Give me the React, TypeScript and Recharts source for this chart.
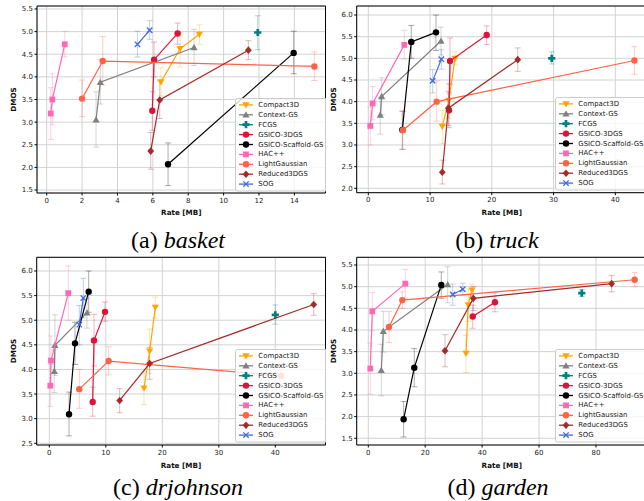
import React from 'react';
import { ScatterChart, Scatter, XAxis, YAxis, CartesianGrid, ErrorBar, ReferenceArea } from 'recharts';

type Pt = [number, number, number, number]; // rate [MB], DMOS, lower end, upper end

const METHODS = ['Compact3D', 'Context-GS', 'FCGS', 'GSICO-3DGS', 'GSICO-Scaffold-GS', 'HAC++', 'LightGaussian', 'Reduced3DGS', 'SOG'];
const COLORS = ['#ffa500', '#808080', '#008080', '#dc143c', '#000000', '#ff69b4', '#ff6347', '#a52a2a', '#4169e1'];
const MARKERS = ['v', '^', 'P', 'o', 'o', 's', 'o', 'D', 'x'];

// (a) basket
const basketCompact3D: Pt[] = [[6.46, 3.89, 3.58, 4.2], [7.54, 4.62, 4.22, 4.98], [8.63, 4.94, 4.72, 5.15]];
const basketContextGS: Pt[] = [[2.79, 3.05, 2.45, 3.67], [3.03, 3.88, 3.4, 4.38], [8.33, 4.65, 4.25, 5.05]];
const basketFCGS: Pt[] = [[11.93, 4.98, 4.6, 5.35]];
const basketGSICO3DGS: Pt[] = [[5.97, 3.25, 2.82, 3.67], [6.07, 4.38, 4.0, 4.77], [7.4, 4.96, 4.72, 5.19]];
const basketScaffold: Pt[] = [[6.86, 2.07, 1.6, 2.54], [13.96, 4.53, 4.07, 5.01]];
const basketHAC: Pt[] = [[0.23, 3.19, 2.62, 3.76], [0.32, 3.5, 2.94, 4.07], [1.02, 4.72, 4.44, 5.0]];
const basketLightGaussian: Pt[] = [[2.0, 3.52, 3.12, 3.93], [3.17, 4.35, 3.82, 4.89], [15.13, 4.23, 3.92, 4.55]];
const basketReduced3DGS: Pt[] = [[5.88, 2.36, 1.96, 2.77], [6.39, 3.49, 3.08, 3.91], [11.4, 4.59, 4.38, 4.8]];
const basketSOG: Pt[] = [[5.13, 4.72, 4.44, 5.01], [5.82, 5.03, 4.83, 5.24]];

// (b) truck
const truckCompact3D: Pt[] = [[11.98, 3.43, 3.03, 3.8], [13.05, 4.03, 3.62, 4.42], [14.05, 5.0, 4.85, 5.15]];
const truckContextGS: Pt[] = [[1.94, 3.69, 3.25, 4.1], [2.16, 4.12, 3.7, 4.55], [11.77, 5.4, 5.08, 5.72]];
const truckFCGS: Pt[] = [[29.7, 5.0, 4.87, 5.15]];
const truckGSICO3DGS: Pt[] = [[13.07, 3.8, 3.4, 4.2], [13.23, 4.94, 4.4, 5.47], [19.17, 5.54, 5.32, 5.75]];
const truckScaffold: Pt[] = [[5.51, 3.35, 2.9, 3.78], [6.96, 5.38, 5.0, 5.76], [10.96, 5.6, 5.18, 6.0]];
const truckHAC: Pt[] = [[0.32, 3.44, 3.0, 3.88], [0.7, 3.96, 3.58, 4.35], [5.83, 5.31, 4.98, 5.65]];
const truckLightGaussian: Pt[] = [[5.61, 3.34, 2.9, 3.78], [11.07, 4.0, 3.55, 4.48], [43.1, 4.95, 4.63, 5.27]];
const truckReduced3DGS: Pt[] = [[11.98, 2.37, 2.1, 2.65], [12.96, 3.85, 3.45, 4.24], [24.2, 4.97, 4.7, 5.24]];
const truckSOG: Pt[] = [[10.42, 4.48, 4.2, 4.74], [11.83, 4.98, 4.75, 5.2]];

// (c) drjohnson
const drjCompact3D: Pt[] = [[16.76, 3.62, 3.29, 3.95], [17.76, 4.37, 3.92, 4.82], [18.76, 5.26, 5.04, 5.47]];
const drjContextGS: Pt[] = [[0.89, 3.96, 3.53, 4.4], [1.0, 4.49, 3.88, 5.11], [6.67, 5.15, 4.84, 5.45]];
const drjFCGS: Pt[] = [[40.0, 5.11, 4.92, 5.31]];
const drjGSICO3DGS: Pt[] = [[7.68, 3.34, 3.05, 3.64], [7.91, 4.59, 4.07, 5.12], [9.86, 5.17, 4.98, 5.37]];
const drjScaffold: Pt[] = [[3.49, 3.09, 2.65, 3.54], [4.55, 4.53, 4.1, 4.96], [6.97, 5.58, 5.16, 6.0]];
const drjHAC: Pt[] = [[0.18, 3.67, 3.25, 4.1], [0.3, 4.18, 3.7, 4.68], [3.36, 5.55, 5.0, 6.1]];
const drjLightGaussian: Pt[] = [[5.31, 3.6, 3.21, 4.0], [10.5, 4.17, 3.89, 4.46], [41.0, 3.87, 3.62, 4.12]];
const drjReduced3DGS: Pt[] = [[12.45, 3.37, 3.12, 3.61], [17.76, 4.12, 3.8, 4.45], [46.8, 5.32, 5.1, 5.54]];
const drjSOG: Pt[] = [[5.31, 4.91, 4.5, 5.3], [6.02, 5.45, 5.05, 5.85]];

// (d) garden
const gardenCompact3D: Pt[] = [[34.33, 3.46, 3.02, 3.88], [35.1, 4.58, 4.2, 4.95], [36.4, 4.92, 4.75, 5.06]];
const gardenContextGS: Pt[] = [[4.57, 3.07, 2.48, 3.67], [5.27, 3.97, 3.49, 4.43], [27.88, 5.05, 4.63, 5.46]];
const gardenFCGS: Pt[] = [[75.0, 4.85, 4.77, 4.93]];
const gardenGSICO3DGS: Pt[] = [[36.7, 4.31, 4.04, 4.57], [44.5, 4.64, 4.42, 4.86]];
const gardenScaffold: Pt[] = [[12.42, 1.94, 1.53, 2.35], [16.16, 3.13, 2.69, 3.57], [25.65, 5.04, 4.73, 5.34]];
const gardenHAC: Pt[] = [[0.7, 3.11, 2.52, 3.7], [1.4, 4.43, 3.98, 4.87], [13.0, 5.07, 4.74, 5.4]];
const gardenLightGaussian: Pt[] = [[7.26, 4.07, 3.71, 4.43], [11.95, 4.69, 4.5, 4.88], [93.6, 5.16, 5.0, 5.33]];
const gardenReduced3DGS: Pt[] = [[26.95, 3.52, 3.15, 3.89], [36.9, 4.73, 4.45, 5.0], [85.5, 5.07, 4.88, 5.26]];
const gardenSOG: Pt[] = [[29.65, 4.82, 4.57, 5.06], [33.2, 4.94, 4.8, 5.08]];

// tick labels
const basketXTicks = [0, 2, 4, 6, 8, 10, 12, 14];
const basketYTicks = [1.5, 2.0, 2.5, 3.0, 3.5, 4.0, 4.5, 5.0, 5.5];
const truckXTicks = [0, 10, 20, 30, 40];
const truckYTicks = [2.0, 2.5, 3.0, 3.5, 4.0, 4.5, 5.0, 5.5, 6.0];
const drjXTicks = [0, 10, 20, 30, 40];
const drjYTicks = [2.5, 3.0, 3.5, 4.0, 4.5, 5.0, 5.5, 6.0];
const gardenXTicks = [0, 20, 40, 60, 80];
const gardenYTicks = [1.5, 2.0, 2.5, 3.0, 3.5, 4.0, 4.5, 5.0, 5.5];

const CAPTION_LETTERS = ['(a)', '(b)', '(c)', '(d)'];
const SCENES = ['basket', 'truck', 'drjohnson', 'garden'];

const basketSeries = [basketCompact3D, basketContextGS, basketFCGS, basketGSICO3DGS, basketScaffold, basketHAC, basketLightGaussian, basketReduced3DGS, basketSOG];
const truckSeries = [truckCompact3D, truckContextGS, truckFCGS, truckGSICO3DGS, truckScaffold, truckHAC, truckLightGaussian, truckReduced3DGS, truckSOG];
const drjSeries = [drjCompact3D, drjContextGS, drjFCGS, drjGSICO3DGS, drjScaffold, drjHAC, drjLightGaussian, drjReduced3DGS, drjSOG];
const gardenSeries = [gardenCompact3D, gardenContextGS, gardenFCGS, gardenGSICO3DGS, gardenScaffold, gardenHAC, gardenLightGaussian, gardenReduced3DGS, gardenSOG];

const SANS = '"DejaVu Sans", Verdana, sans-serif';

function drawMarker(kind: string, cx: number, cy: number, color: string, key?: string) {
  switch (kind) {
    case 's':
      return <rect key={key} x={cx - 2.9} y={cy - 2.9} width={5.8} height={5.8} fill={color} />;
    case 'v':
      return <polygon key={key} points={`${cx - 3.6},${cy - 2.7} ${cx + 3.6},${cy - 2.7} ${cx},${cy + 3.6}`} fill={color} />;
    case '^':
      return <polygon key={key} points={`${cx - 3.6},${cy + 2.7} ${cx + 3.6},${cy + 2.7} ${cx},${cy - 3.6}`} fill={color} />;
    case 'D':
      return <polygon key={key} points={`${cx},${cy - 3.8} ${cx + 3.4},${cy} ${cx},${cy + 3.8} ${cx - 3.4},${cy}`} fill={color} />;
    case 'P': {
      const t = 1.35, a = 3.6;
      return (
        <path
          key={key}
          d={`M${cx - t},${cy - a}H${cx + t}V${cy - t}H${cx + a}V${cy + t}H${cx + t}V${cy + a}H${cx - t}V${cy + t}H${cx - a}V${cy - t}H${cx - t}Z`}
          fill={color}
        />
      );
    }
    case 'x':
      return (
        <path
          key={key}
          d={`M${cx - 2.7},${cy - 2.7}L${cx + 2.7},${cy + 2.7}M${cx - 2.7},${cy + 2.7}L${cx + 2.7},${cy - 2.7}`}
          stroke={color}
          strokeWidth={1.3}
          fill="none"
        />
      );
    default:
      return <circle key={key} cx={cx} cy={cy} r={3.2} fill={color} />;
  }
}

const makeShape = (kind: string, color: string) => (props: any) => {
  const { cx, cy } = props;
  if (cx == null || cy == null) return <g />;
  return drawMarker(kind, cx, cy, color);
};

interface PanelCfg {
  series: Pt[][];
  xTicks: number[];
  yTicks: number[];
  box: { l: number; t: number; w: number; h: number };
  chartW: number;
  chartH: number;
  margin: { top: number; right: number; left: number; bottom: number };
  yW: number;
  xH: number;
  xDomain: [number, number];
  yDomain: [number, number];
  legend: { l: number; t: number };
}

const PANELS: PanelCfg[] = [
  {
    series: basketSeries, xTicks: basketXTicks, yTicks: basketYTicks,
    box: { l: 0, t: 0, w: 326, h: 222 }, chartW: 330, chartH: 220,
    margin: { top: 6, right: 4.5, left: 0, bottom: 0 }, yW: 37, xH: 27,
    xDomain: [-0.548, 15.76], yDomain: [1.434, 5.566], legend: { l: 235.5, t: 98.7 },
  },
  {
    series: truckSeries, xTicks: truckXTicks, yTicks: truckYTicks,
    box: { l: 326, t: 0, w: 318, h: 222 }, chartW: 322, chartH: 220,
    margin: { top: 6, right: 1.2, left: 0, bottom: 0 }, yW: 30.7, xH: 27.3,
    xDomain: [-1.88, 45.1], yDomain: [1.899, 6.208], legend: { l: 555.3, t: 97.5 },
  },
  {
    series: drjSeries, xTicks: drjXTicks, yTicks: drjYTicks,
    box: { l: 0, t: 250, w: 326, h: 218 }, chartW: 330, chartH: 215,
    margin: { top: 7.3, right: 4.5, left: 0, bottom: 0 }, yW: 36.7, xH: 20,
    xDomain: [-2.23, 48.88], yDomain: [2.465, 6.278], legend: { l: 235.3, t: 349.5 },
  },
  {
    series: gardenSeries, xTicks: gardenXTicks, yTicks: gardenYTicks,
    box: { l: 326, t: 250, w: 318, h: 218 }, chartW: 322, chartH: 215,
    margin: { top: 7.3, right: 1.2, left: 0, bottom: 0 }, yW: 30.7, xH: 20,
    xDomain: [-4.076, 97.86], yDomain: [1.345, 5.678], legend: { l: 555.3, t: 349.5 },
  },
];

const LEG_W = 92;
const LEG_H = 92.5;

function LegendBox({ left, top }: { left: number; top: number }) {
  return (
    <svg width={LEG_W + 2} height={LEG_H + 2} style={{ position: 'absolute', left: left - 0.5, top: top - 0.5, overflow: 'visible' }}>
      <rect x={0.5} y={0.5} width={LEG_W} height={LEG_H} rx={2} fill="rgba(255,255,255,0.8)" stroke="#cccccc" strokeWidth={1} />
      {METHODS.map((m, i) => {
        const cy = 0.5 + 6.4 + i * 9.9;
        return (
          <g key={m}>
            <line x1={4} x2={18} y1={cy} y2={cy} stroke={COLORS[i]} strokeWidth={1.3} />
            {drawMarker(MARKERS[i], 11, cy, COLORS[i])}
            <text x={23.3} y={cy} dominantBaseline="central" fontSize={6.95} fontFamily={SANS} fill="#222">{m}</text>
          </g>
        );
      })}
    </svg>
  );
}

function Panel({ cfg }: { cfg: PanelCfg }) {
  const tickStyle = { fontSize: 7, fill: '#1a1a1a', fontFamily: SANS };
  return (
    <div style={{ position: 'absolute', left: cfg.box.l, top: cfg.box.t, width: cfg.box.w, height: cfg.box.h, overflow: 'hidden' }}>
      <ScatterChart width={cfg.chartW} height={cfg.chartH} margin={cfg.margin}>
        <CartesianGrid stroke="#d2d2d2" strokeWidth={1} />
        <XAxis
          type="number" dataKey="x" domain={cfg.xDomain} ticks={cfg.xTicks} allowDataOverflow interval={0}
          height={cfg.xH} axisLine={false} tickSize={2.5} tickMargin={2.2} tickLine={{ stroke: '#000' }} tick={tickStyle}
        />
        <YAxis
          type="number" dataKey="y" domain={cfg.yDomain} ticks={cfg.yTicks} allowDataOverflow interval={0}
          width={cfg.yW} axisLine={false} tickSize={2.5} tickMargin={1.5} tickLine={{ stroke: '#000' }} tick={tickStyle}
          tickFormatter={(v: number) => v.toFixed(1)}
        />
        {cfg.series.map((pts, i) => (
          <Scatter
            key={METHODS[i]}
            name={METHODS[i]}
            data={pts.map((p) => ({ x: p[0], y: p[1], err: [p[1] - p[2], p[3] - p[1]] }))}
            line={{ stroke: COLORS[i], strokeWidth: 1.2 }}
            lineType="joint"
            shape={makeShape(MARKERS[i], COLORS[i])}
            isAnimationActive={false}
          >
            <ErrorBar dataKey="err" direction="y" width={3} stroke={COLORS[i]} strokeWidth={1} strokeOpacity={0.32} />
          </Scatter>
        ))}
        <ReferenceArea
          x1={cfg.xDomain[0]} x2={cfg.xDomain[1]} y1={cfg.yDomain[0]} y2={cfg.yDomain[1]}
          fill="none" fillOpacity={0} stroke="#000" strokeWidth={1} ifOverflow="visible"
        />
      </ScatterChart>
      <LegendBox left={cfg.legend.l - cfg.box.l} top={cfg.legend.t - cfg.box.t} />
    </div>
  );
}

const X_LABEL_POS = [[181.3, 212], [501.8, 212], [181, 465], [501.8, 465]];
const Y_LABEL_POS = [[13.3, 99.5], [333.3, 99.4], [13.3, 351], [333, 351]];
const CAPTION_POS = [[178, 247.5], [497, 247.5], [178, 495], [498, 495]];

export default function App() {
  return (
    <div style={{ position: 'absolute', left: 0, top: 0, width: 644, height: 501, background: '#fff', overflow: 'hidden' }}>
      {PANELS.map((p, i) => (
        <Panel key={i} cfg={p} />
      ))}
      <svg width={644} height={501} style={{ position: 'absolute', left: 0, top: 0, pointerEvents: 'none' }}>
        {X_LABEL_POS.map(([x, y], i) => (
          <text key={'xl' + i} x={x} y={y} textAnchor="middle" dominantBaseline="central" fontSize={7.2} fontWeight="bold" fontFamily={SANS} fill="#111">Rate [MB]</text>
        ))}
        {Y_LABEL_POS.map(([x, y], i) => (
          <text key={'yl' + i} x={x} y={y} textAnchor="middle" dominantBaseline="central" fontSize={7.2} fontWeight="bold" fontFamily={SANS} fill="#111" transform={`rotate(-90 ${x} ${y})`}>DMOS</text>
        ))}
        {CAPTION_POS.map(([x, y], i) => (
          <text key={'cap' + i} x={x} y={y} textAnchor="middle" fontSize={24} fontFamily='"Liberation Serif", "Times New Roman", serif' fill="#000">
            {CAPTION_LETTERS[i] + ' '}
            <tspan fontStyle="italic">{SCENES[i]}</tspan>
          </text>
        ))}
      </svg>
    </div>
  );
}
